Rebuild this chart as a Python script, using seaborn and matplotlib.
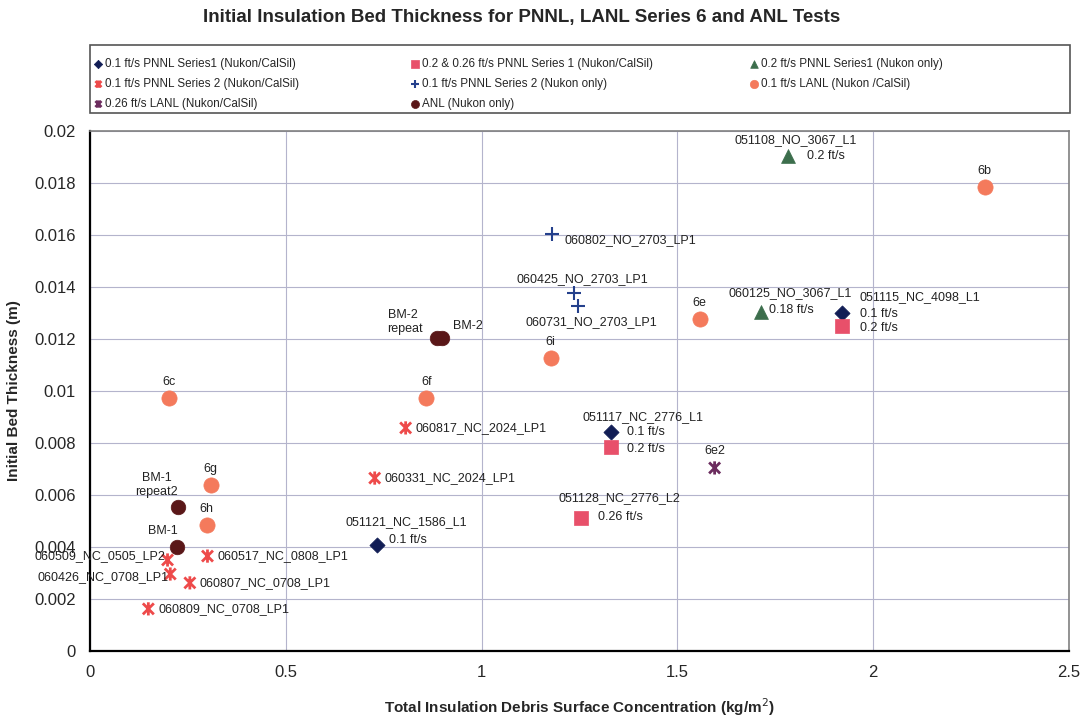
import matplotlib
matplotlib.use("Agg")
import matplotlib.pyplot as plt
from matplotlib.path import Path
from matplotlib.patches import Rectangle
from matplotlib.ticker import FuncFormatter
import seaborn as sns

# ---- data (kg/m2, m) ----
pnnl1_x = [0.734, 1.330, 1.920]
pnnl1_y = [0.00408, 0.00842, 0.01300]

pnnl1sq_x = [1.330, 1.920, 1.255]
pnnl1sq_y = [0.00785, 0.01250, 0.00512]

pnnl1no_x = [1.782, 1.713]
pnnl1no_y = [0.01905, 0.01304]

pnnl2_x = [0.806, 0.727, 0.300, 0.255, 0.149, 0.198, 0.205]
pnnl2_y = [0.00858, 0.00665, 0.00365, 0.00262, 0.00162, 0.00350, 0.00296]
pnnl2_lbl = ["060817_NC_2024_LP1", "060331_NC_2024_LP1", "060517_NC_0808_LP1",
             "060807_NC_0708_LP1", "060809_NC_0708_LP1", "060509_NC_0505_LP2",
             "060426_NC_0708_LP1"]

pnnl2no_x = [1.181, 1.237, 1.245]
pnnl2no_y = [0.01604, 0.01377, 0.01327]
pnnl2no_lbl = ["060802_NO_2703_LP1", "060425_NO_2703_LP1", "060731_NO_2703_LP1"]

lanl_x = [2.285, 1.557, 1.176, 0.859, 0.201, 0.308, 0.298]
lanl_y = [0.01785, 0.01277, 0.01127, 0.00973, 0.00973, 0.00638, 0.00485]
lanl_lbl = ["6b", "6e", "6i", "6f", "6c", "6g", "6h"]

lanl26_x = [1.595]
lanl26_y = [0.00704]

anl_x = [0.885, 0.900, 0.221, 0.224]
anl_y = [0.01204, 0.01204, 0.00400, 0.00554]

# label offsets in pixels (dx, dy, ha)
pnnl2_off = [(10, 0, "left"), (10, 0, "left"), (10, 0, "left"), (10, 0, "left"),
             (10, 0, "left"), (-2, 4, "right"), (-2, -3, "right")]
pnnl2no_off = [(12, -6, "left"), (-58, 14, "left"), (-52, -16, "left")]

sns.set_style("white")
plt.rcParams['font.family'] = ['Liberation Sans', 'DejaVu Sans']

fig = plt.figure(figsize=(10.83, 7.19), dpi=100)
ax = fig.add_axes([0.0831, 0.0946, 0.904, 0.7232])

star = Path([(-1, -1), (1, 1), (-1, 1), (1, -1), (0, -1.2), (0, 1.2)],
            [Path.MOVETO, Path.LINETO, Path.MOVETO, Path.LINETO, Path.MOVETO, Path.LINETO])

series = [
    (pnnl1_x, pnnl1_y, "D", "#111d55", 60, "0.1 ft/s PNNL Series1 (Nukon/CalSil)"),
    (pnnl2_x, pnnl2_y, star, "#ee4a4a", 90, "0.1 ft/s PNNL Series 2 (Nukon/CalSil)"),
    (lanl26_x, lanl26_y, star, "#6b2c5e", 90, "0.26 ft/s LANL (Nukon/CalSil)"),
    (pnnl1sq_x, pnnl1sq_y, "s", "#e8506a", 100, "0.2 & 0.26 ft/s PNNL Series 1 (Nukon/CalSil)"),
    (pnnl2no_x, pnnl2no_y, "+", "#24408c", 110, "0.1 ft/s PNNL Series 2 (Nukon only)"),
    (anl_x, anl_y, "o", "#5a1718", 110, "ANL (Nukon only)"),
    (pnnl1no_x, pnnl1no_y, "^", "#3c6e4c", 100, "0.2 ft/s PNNL Series1 (Nukon only)"),
    (lanl_x, lanl_y, "o", "#f47a5c", 120, "0.1 ft/s LANL (Nukon /CalSil)"),
]

for xs, ys, mk, col, size, name in series:
    if mk is star or mk == "+":
        sns.scatterplot(x=xs, y=ys, marker=mk, s=size, color=col, edgecolor=col,
                        facecolor="none" if mk is star else col, linewidth=2 if mk is star else 1.5,
                        ax=ax, label=name, zorder=3)
    else:
        sns.scatterplot(x=xs, y=ys, marker=mk, s=size, color=col, edgecolor=col,
                        linewidth=0.5, ax=ax, label=name, zorder=3)

ax.set_xlim(0, 2.5)
ax.set_ylim(0, 0.02)
ax.set_xticks([0, 0.5, 1, 1.5, 2, 2.5])
ax.set_yticks([i * 0.002 for i in range(11)])
ax.xaxis.set_major_formatter(FuncFormatter(lambda v, p: f"{v:g}"))
ax.yaxis.set_major_formatter(FuncFormatter(lambda v, p: f"{v:g}"))
ax.tick_params(axis="both", labelsize=12, direction="out", length=4, pad=6)
ax.grid(True, color="#b4b4cc", linewidth=0.8)
for side in ["left", "bottom"]:
    ax.spines[side].set_color("black")
    ax.spines[side].set_linewidth(1.6)
for side in ["top", "right"]:
    ax.spines[side].set_color("#808080")
    ax.spines[side].set_linewidth(1.2)


def note(x, y, text, dx, dy, ha="left"):
    ax.annotate(text, (x, y), xytext=(dx, dy), textcoords="offset pixels",
                ha=ha, va="center", fontsize=9, color="#222222", zorder=4)


# LANL labels
for x, y, t in zip(lanl_x, lanl_y, lanl_lbl):
    note(x, y, t, 0, 16, "center")
note(lanl26_x[0], lanl26_y[0], "6e2", 0, 17, "center")

for x, y, t, (dx, dy, ha) in zip(pnnl2_x, pnnl2_y, pnnl2_lbl, pnnl2_off):
    note(x, y, t, dx, dy, ha)
for x, y, t, (dx, dy, ha) in zip(pnnl2no_x, pnnl2no_y, pnnl2no_lbl, pnnl2no_off):
    note(x, y, t, dx, dy, ha)

# PNNL series 1 labels
note(pnnl1_x[0], pnnl1_y[0], "051121_NC_1586_L1", -32, 23)
note(pnnl1_x[0], pnnl1_y[0], "0.1 ft/s", 12, 5)
note(pnnl1_x[1], pnnl1_y[1], "051117_NC_2776_L1", -28, 15)
note(pnnl1_x[1], pnnl1_y[1], "0.1 ft/s", 16, 0)
note(pnnl1sq_x[0], pnnl1sq_y[0], "0.2 ft/s", 16, -2)
note(pnnl1_x[2], pnnl1_y[2], "051115_NC_4098_L1", 18, 16)
note(pnnl1_x[2], pnnl1_y[2], "0.1 ft/s", 18, -1)
note(pnnl1sq_x[1], pnnl1sq_y[1], "0.2 ft/s", 18, -2)
note(pnnl1sq_x[2], pnnl1sq_y[2], "051128_NC_2776_L2", -23, 20)
note(pnnl1sq_x[2], pnnl1sq_y[2], "0.26 ft/s", 17, 1)
note(pnnl1no_x[0], pnnl1no_y[0], "051108_NO_3067_L1", 8, 16, "center")
note(pnnl1no_x[0], pnnl1no_y[0], "0.2 ft/s", 19, 0)
note(pnnl1no_x[1], pnnl1no_y[1], "060125_NO_3067_L1", -32, 19)
note(pnnl1no_x[1], pnnl1no_y[1], "0.18 ft/s", 8, 2)

# ANL labels
note(anl_x[1], anl_y[1], "BM-2", 11, 12)
note(anl_x[0], anl_y[0], "BM-2\nrepeat", -49, 16)
note(anl_x[2], anl_y[2], "BM-1", -14, 16, "center")
note(anl_x[3], anl_y[3], "BM-1\nrepeat2", -21, 22, "center")

ax.set_xlabel("Total Insulation Debris Surface Concentration (kg/m$^2$)",
              fontsize=11, fontweight="bold", labelpad=12)
ax.set_ylabel("Initial Bed Thickness (m)", fontsize=11, fontweight="bold", labelpad=10)
fig.text(0.482, 0.976, "Initial Insulation Bed Thickness for PNNL, LANL Series 6 and ANL Tests",
         ha="center", va="center", fontsize=13.5, fontweight="bold")

# legend: three columns inside one box
handles, labels = ax.get_legend_handles_labels()
ax.legend_.remove() if ax.legend_ else None
col_x = [0.0855, 0.378, 0.691]
groups = [(0, 3), (3, 6), (6, 8)]
for cx, (a, b) in zip(col_x, groups):
    fig.legend(handles[a:b], labels[a:b], loc="upper left", bbox_to_anchor=(cx, 0.919),
               frameon=False, fontsize=8.4, markerscale=0.55, handletextpad=0.1,
               handlelength=1.0, labelspacing=0.68, borderpad=0, borderaxespad=0)
fig.patches.append(Rectangle((0.083, 0.843), 0.905, 0.0946, transform=fig.transFigure,
                             fill=False, edgecolor="#555555", linewidth=1.2))

fig.savefig("out.png", dpi=100)
